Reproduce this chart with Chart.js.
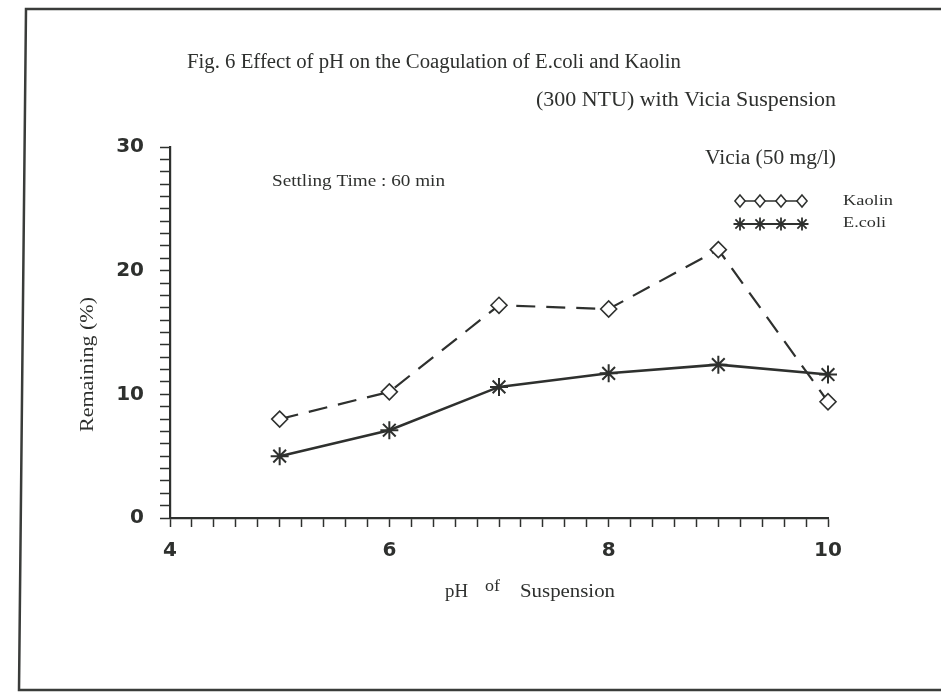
<!DOCTYPE html>
<html>
<head>
<meta charset="utf-8">
<title>Fig. 6 Effect of pH on the Coagulation of E.coli and Kaolin</title>
<script src="https://cdn.jsdelivr.net/npm/chart.js@4/dist/chart.umd.min.js"></script>
<style>
  html, body { margin: 0; background: #fff; }
  #wrap { position: relative; width: 941px; height: 693px; }
</style>
</head>
<body>
<div id="wrap"><canvas id="c" width="941" height="693"></canvas></div>
<script>
// remaining turbidity (%) after 60 min settling, Vicia 50 mg/l
var PH = [5, 6, 7, 8, 9, 10];
var KAOLIN = [8.0, 10.2, 17.2, 16.9, 21.7, 9.4];
var ECOLI = [5.0, 7.1, 10.6, 11.7, 12.4, 11.6];
var X_LABELS = [4, 6, 8, 10];
var Y_LABELS = [0, 10, 20, 30];

var INK = '#2e302e';
var SERIF = '"Liberation Serif", "Times New Roman", serif';
var SANS = '"DejaVu Sans", sans-serif';

function pts(ys) { return PH.map(function (x, i) { return { x: x, y: ys[i] }; }); }
function onlyLabels(list) {
  return function (v) { var r = Math.round(v * 10) / 10; return list.indexOf(r) >= 0 ? String(r) : ''; };
}

// serif caption squeezed/stretched to span w pixels from x (typewriter captions run wide)
function txt(ctx, s, x, y, size, w) {
  ctx.font = size + 'px ' + SERIF;
  var m = ctx.measureText(s).width;
  ctx.save();
  ctx.translate(x, y);
  if (w) ctx.scale(w / m, 1);
  ctx.fillText(s, 0, 0);
  ctx.restore();
}

// little marker helpers for the hand-made key
function diamond(ctx, x, y, r) {
  ctx.beginPath();
  ctx.moveTo(x, y - r); ctx.lineTo(x + r * 0.85, y); ctx.lineTo(x, y + r); ctx.lineTo(x - r * 0.85, y); ctx.closePath();
  ctx.fill(); ctx.stroke();
}
function asterisk(ctx, x, y, r) {
  ctx.beginPath();
  for (var k = 0; k < 4; k++) {
    var a = k * Math.PI / 4;
    ctx.moveTo(x - r * Math.cos(a), y - r * Math.sin(a));
    ctx.lineTo(x + r * Math.cos(a), y + r * Math.sin(a));
  }
  ctx.stroke();
}

var paper = {
  id: 'paper',
  beforeDraw: function (chart) {
    var ctx = chart.ctx;
    ctx.save();
    ctx.fillStyle = '#fff';
    ctx.fillRect(0, 0, chart.width, chart.height);
    // photocopy frame, open on the right
    ctx.strokeStyle = '#3a3c3a'; ctx.lineWidth = 2.5;
    ctx.beginPath();
    ctx.moveTo(941, 9); ctx.lineTo(26, 9); ctx.lineTo(19, 690); ctx.lineTo(941, 690);
    ctx.stroke();
    ctx.restore();
  },
  afterDraw: function (chart) {
    var ctx = chart.ctx;
    ctx.save();
    ctx.fillStyle = INK; ctx.textBaseline = 'middle'; ctx.textAlign = 'left';

    txt(ctx, 'Fig. 6 Effect of pH on the Coagulation of E.coli and Kaolin', 187, 63, 20, 494);
    txt(ctx, '(300 NTU) with Vicia Suspension', 536, 100, 21, 300);
    txt(ctx, 'Settling Time : 60 min', 272, 182, 17, 173);
    txt(ctx, 'Vicia (50 mg/l)', 705, 159, 20, 131);

    // axis titles
    txt(ctx, 'pH', 445, 592, 19, 23);
    txt(ctx, 'of', 485, 587, 16, 15);
    txt(ctx, 'Suspension', 520, 592, 19, 95);
    ctx.save();
    ctx.translate(88, 432); ctx.rotate(-Math.PI / 2);
    txt(ctx, 'Remaining (%)', 0, 0, 19, 135);
    ctx.restore();

    // key
    var kx = [740, 760, 781, 802];
    ctx.strokeStyle = INK; ctx.lineWidth = 1.5;
    ctx.beginPath(); ctx.moveTo(kx[0], 201); ctx.lineTo(kx[3], 201); ctx.stroke();
    ctx.fillStyle = '#fff';
    kx.forEach(function (x) { diamond(ctx, x, 201, 6); });
    ctx.lineWidth = 1.8;
    ctx.beginPath(); ctx.moveTo(kx[0], 224); ctx.lineTo(kx[3], 224); ctx.stroke();
    kx.forEach(function (x) { asterisk(ctx, x, 224, 6.5); });
    ctx.fillStyle = INK;
    txt(ctx, 'Kaolin', 843, 201, 15, 50);
    txt(ctx, 'E.coli', 843, 223, 15, 43);
    ctx.restore();
  }
};

new Chart(document.getElementById('c'), {
  type: 'line',
  data: {
    datasets: [
      {
        label: 'Kaolin', data: pts(KAOLIN),
        borderColor: INK, borderWidth: 2.2, borderDash: [19, 11],
        pointStyle: 'rectRot', pointRadius: 8, pointBackgroundColor: '#fff',
        pointBorderColor: INK, pointBorderWidth: 1.6, tension: 0, clip: false
      },
      {
        label: 'E.coli', data: pts(ECOLI),
        borderColor: INK, borderWidth: 2.6,
        pointStyle: 'star', pointRadius: 9, pointBorderColor: INK,
        pointBorderWidth: 2, tension: 0, clip: false
      }
    ]
  },
  options: {
    responsive: false, animation: false, devicePixelRatio: 1,
    layout: { padding: { top: 147, right: 113, left: 0, bottom: 0 } },
    plugins: { legend: { display: false }, tooltip: { enabled: false } },
    scales: {
      x: {
        type: 'linear', min: 4, max: 10,
        grid: { drawOnChartArea: false, tickLength: 9, tickColor: INK, tickWidth: 1.5 },
        border: { color: INK, width: 2.2 },
        ticks: { stepSize: 0.2, autoSkip: false, maxRotation: 0, padding: 12, color: INK,
                 font: { family: SANS, size: 20, weight: 'bold' }, callback: onlyLabels(X_LABELS) },
        afterFit: function (s) { s.height = 175; }
      },
      y: {
        min: 0, max: 30,
        grid: { drawOnChartArea: false, tickLength: 10, tickColor: INK, tickWidth: 1.5 },
        border: { color: INK, width: 2.2 },
        ticks: { stepSize: 1, autoSkip: false, padding: 16, color: INK,
                 font: { family: SANS, size: 20, weight: 'bold' }, callback: onlyLabels(Y_LABELS) },
        afterFit: function (s) { s.width = 170; }
      }
    }
  },
  plugins: [paper]
});
</script>
</body>
</html>
